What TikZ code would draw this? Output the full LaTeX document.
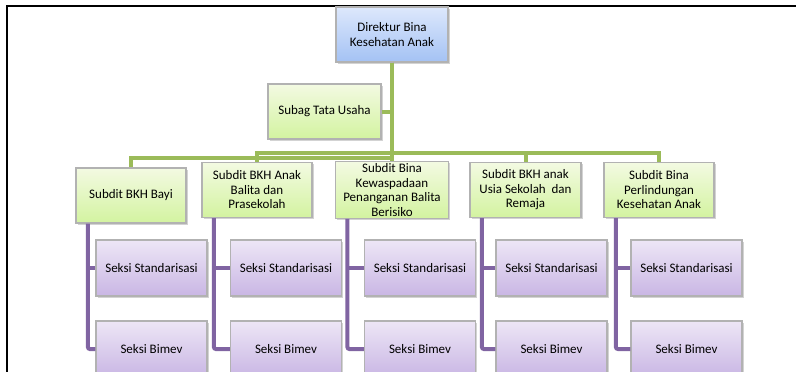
\documentclass[tikz,border=0pt]{standalone}
\usepackage{fontspec}
\setmainfont{Carlito}
\usetikzlibrary{shadows}
\definecolor{garisHijau}{HTML}{9BBB59}
\definecolor{garisUngu}{HTML}{8064A2}
\definecolor{biruAtas}{HTML}{DDE8FC}
\definecolor{biruBawah}{HTML}{A4C2F4}
\definecolor{hijauAtas}{HTML}{F3FAE2}
\definecolor{hijauBawah}{HTML}{D3F3A0}
\definecolor{unguAtas}{HTML}{EDE6F6}
\definecolor{unguBawah}{HTML}{C9B6E4}
\begin{document}
\begin{tikzpicture}[x=1pt,y=-1pt,
    kotak/.style={draw=black!30,line width=1.2pt,align=center,inner sep=2pt,
      font=\fontsize{13}{14.5}\selectfont,
      drop shadow={opacity=0.35,shadow xshift=1.5pt,shadow yshift=-1.5pt}},
    kepala/.style={kotak,top color=biruAtas,bottom color=biruBawah,
      minimum width=112pt,minimum height=55pt},
    subdit/.style={kotak,top color=hijauAtas,bottom color=hijauBawah,
      minimum width=111pt,minimum height=55pt},
    seksi/.style={kotak,top color=unguAtas,bottom color=unguBawah,
      minimum width=111pt,minimum height=56pt},
    hijau/.style={garisHijau,line width=4pt},
    ungu/.style={garisUngu,line width=4pt,rounded corners=2pt}]
  \useasboundingbox (0,0) rectangle (796,372);
  \clip (0,0) rectangle (796,372);
  \draw[line width=2pt](7,372)--(7,6)--(796,6);
  % kepala dan subbag
  \node[kepala] (dir) at (392,34.5) {Direktur Bina\\Kesehatan Anak};
  \node[subdit,minimum width=113pt] (tu) at (324.5,111.5) {Subag Tata Usaha};
  % subdit
  \node[subdit,minimum width=110pt] (s1) at (131,195.5) {Subdit BKH Bayi};
  \node[subdit,minimum width=110pt] (s2) at (257,190) {Subdit BKH Anak\\Balita dan\\Prasekolah};
  \node[subdit,minimum width=113pt,minimum height=54pt] (s3) at (392,190) {Subdit Bina\\Kewaspadaan\\Penanganan Balita\\Berisiko};
  \node[subdit] (s4) at (525.5,190) {Subdit BKH anak\\Usia Sekolah\ \ dan\\Remaja};
  \node[subdit,minimum width=110pt] (s5) at (659,190) {Subdit Bina\\Perlindungan\\Kesehatan Anak};
  \draw[hijau](tu.east)--(dir.south |- tu.east);
  \draw[hijau](dir.south)--++(0,95)-|(s1.north);
  \draw[hijau](dir.south)--++(0,90)-|(s2.north);
  \draw[hijau](dir.south)--(s3.north);
  \draw[hijau](dir.south)--++(0,90)-|(s4.north);
  \draw[hijau](dir.south)--++(0,90)-|(s5.north);
  % seksi
  \foreach \i/\sx in {1/151.5,2/286,3/420,4/551.5,5/686.5}{
    \node[seksi] (std\i) at (\sx,268) {Seksi Standarisasi};
    \node[seksi] (bim\i) at (\sx,349) {Seksi Bimev};
    \coordinate (t\i) at ([xshift=12.5pt]s\i.south west);
    \draw[ungu](t\i)|-(bim\i.west);
    \draw[ungu](t\i |- std\i.west)--(std\i.west);
  }
\end{tikzpicture}
\end{document}
